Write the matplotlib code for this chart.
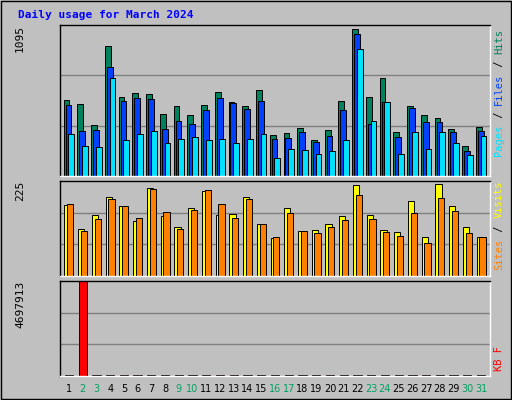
import matplotlib
matplotlib.use("Agg")
import matplotlib.pyplot as plt
import numpy as np

days = list(range(1, 32))
weekend = [2, 3, 9, 10, 16, 17, 23, 24, 30, 31]
hits = [551,522,370,943,573,602,595,450,508,442,515,609,537,508,624,297,312,348,261,334,544,1066,573,711,319,508,442,421,341,218,355]
files = [515,326,334,790,544,566,558,341,399,377,479,566,529,486,544,268,276,319,247,290,479,1030,377,537,283,493,392,392,319,181,326]
pages = [305,218,210,711,261,305,326,239,268,283,261,268,239,268,305,131,196,189,160,181,261,921,399,537,160,319,196,319,239,152,290]
visits = [168,111,145,187,166,130,209,142,116,161,201,145,147,187,123,90,161,107,109,123,142,216,145,109,104,178,92,218,166,116,92]
sites = [171,107,135,182,166,137,206,152,111,156,204,171,137,182,123,92,149,107,102,116,133,192,135,104,95,149,78,185,154,102,92]
kbytes = [50000,4697913] + [50000]*29
max_hits, max_visits, max_kb = 1095, 225, 4697913

W, H = 512, 400
fig = plt.figure(figsize=(W/100, H/100), dpi=100, facecolor='#c0c0c0')
mono = 'DejaVu Sans Mono'
fig.text(18/W, 1-15/H, 'Daily usage for March 2024', color='#0000ff', fontsize=8,
         fontweight='bold', family=mono, va='center')

L, R = 60/W, 490/W
X0, X1 = 0.4, 31.7
def mkax(top, bot):
    ax = fig.add_axes([L, 1-bot/H, R-L, (bot-top)/H], facecolor='#c0c0c0')
    for s in ax.spines.values():
        s.set_color('black'); s.set_linewidth(1)
    ax.spines['right'].set_color('white'); ax.spines['bottom'].set_color('white')
    ax.set_xlim(X0, X1)
    ax.set_xticks([]); ax.set_yticks([])
    return ax

x = np.array(days)
lw = 0.7
ax1 = mkax(25, 176)
ax1.set_ylim(0, max_hits)
for g in (max_hits/3, 2*max_hits/3):
    ax1.axhline(g, color='#808080', lw=1, zorder=0)
ax1.bar(x-0.12, hits, 0.42, color='#00805c', edgecolor='black', lw=lw)
ax1.bar(x+0.02, files, 0.42, color='#0040ff', edgecolor='black', lw=lw)
ax1.bar(x+0.22, pages, 0.42, color='#00e0ff', edgecolor='black', lw=lw)

ax2 = mkax(181, 276)
ax2.set_ylim(0, max_visits)
for g in (max_visits/3, 2*max_visits/3):
    ax2.axhline(g, color='#808080', lw=1, zorder=0)
ax2.bar(x-0.05, visits, 0.45, color='#ffff00', edgecolor='black', lw=lw)
ax2.bar(x+0.15, sites, 0.45, color='#ff8000', edgecolor='black', lw=lw)

ax3 = mkax(281, 376)
ax3.set_ylim(0, max_kb)
for g in (max_kb/3, 2*max_kb/3):
    ax3.axhline(g, color='#808080', lw=1, zorder=0)
ax3.bar(x+0.05, kbytes, 0.6, color='#ff0000', edgecolor='black', lw=lw)

fig.text(20/W, 1-25/H, str(max_hits), rotation=90, ha='center', va='top', fontsize=8, family=mono)
fig.text(20/W, 1-181/H, str(max_visits), rotation=90, ha='center', va='top', fontsize=8, family=mono)
fig.text(20/W, 1-281/H, str(max_kb), rotation=90, ha='center', va='top', fontsize=8, family=mono)

def rlabel(ytop, parts):
    # parts from bottom to top; ytop = pixel y of top of text
    total = sum(len(p) for p, c in parts)
    ch = 6.4
    y = ytop + total*ch
    for p, c in parts:
        fig.text(499/W, 1-y/H, p, rotation=90, ha='center', va='bottom', fontsize=7.5, family=mono, color=c)
        y -= len(p)*ch

rlabel(28, [('Pages', '#00e0ff'), (' / ', '#000000'), ('Files', '#0040ff'), (' / ', '#000000'), ('Hits', '#00805c')])
rlabel(180, [('Sites', '#ff8000'), (' / ', '#000000'), ('Visits', '#ffff00')])
rlabel(345, [('KB F', '#ff0000')])

for d in days:
    fig.text(L + (d+0.05-X0)/(X1-X0)*(R-L), 1-389/H, str(d), ha='center', va='center', fontsize=7,
             color='#00a060' if d in weekend else 'black')

fig.add_artist(plt.Rectangle((0.002, 0.002), 0.996, 0.996, transform=fig.transFigure,
                             fill=False, edgecolor='black', lw=1))
fig.savefig('out.png', dpi=100, facecolor=fig.get_facecolor())
